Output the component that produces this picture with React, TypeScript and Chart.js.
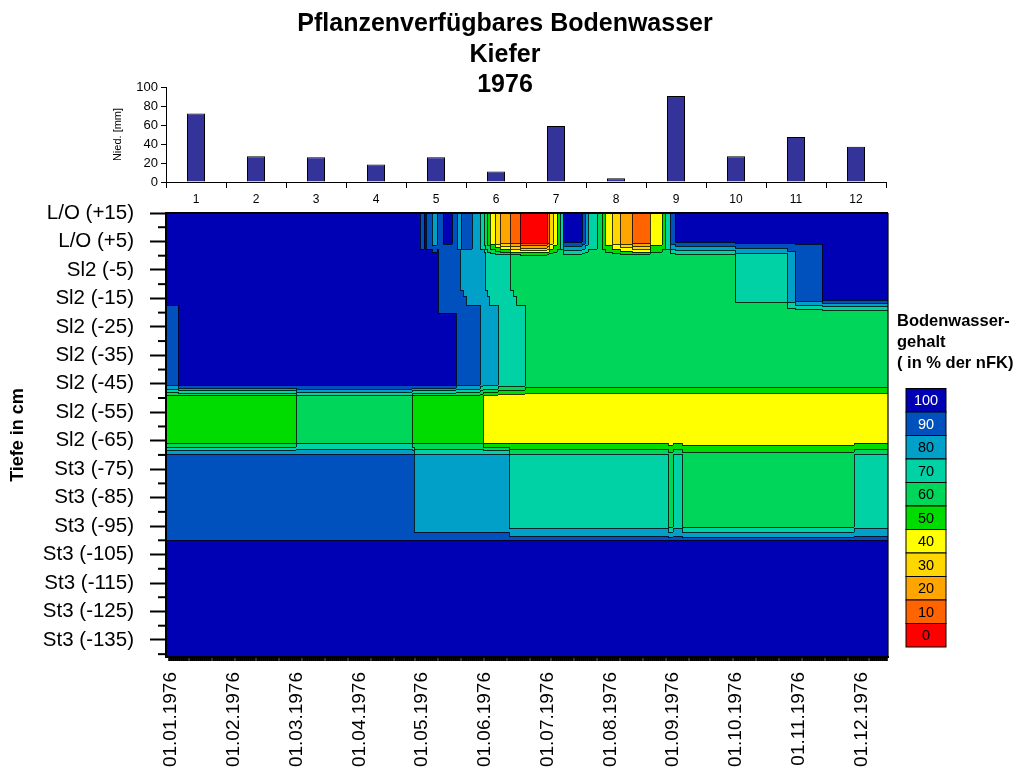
import { useEffect, useRef } from 'react';
import { Chart, registerables } from 'chart.js';

Chart.register(...registerables);

const FONT = '"Liberation Sans", Arial, Helvetica, sans-serif';

const TITLE_LINES = ['Pflanzenverfügbares Bodenwasser', 'Kiefer', '1976'];

// Monthly precipitation
const MONTHS = ['1', '2', '3', '4', '5', '6', '7', '8', '9', '10', '11', '12'];
const PRECIP_MM = [72, 27, 26, 18.5, 26, 11, 59, 4, 90.5, 27, 47.5, 37];

// Depth axis (cm) and date axis
const DEPTH_LABELS = [
  'L/O (+15)', 'L/O (+5)', 'Sl2 (-5)', 'Sl2 (-15)', 'Sl2 (-25)', 'Sl2 (-35)', 'Sl2 (-45)',
  'Sl2 (-55)', 'Sl2 (-65)', 'St3 (-75)', 'St3 (-85)', 'St3 (-95)', 'St3 (-105)',
  'St3 (-115)', 'St3 (-125)', 'St3 (-135)',
];
const DATE_LABELS = [
  '01.01.1976', '01.02.1976', '01.03.1976', '01.04.1976', '01.05.1976', '01.06.1976',
  '01.07.1976', '01.08.1976', '01.09.1976', '01.10.1976', '01.11.1976', '01.12.1976',
];
const DAYS_PER_LABEL = 30;
const DAY_COUNT = 344;

// Soil water classes (% nFK)
const LEVELS = [0, 10, 20, 30, 40, 50, 60, 70, 80, 90, 100];
const LEVEL_COLORS = [
  '#FF0000', '#FF6400', '#FFA500', '#FFD700', '#FFFF00', '#00DC00',
  '#00D75A', '#00D2A5', '#00A0C8', '#0050BE', '#0000B4',
];
const LEGEND_TITLE = ['Bodenwasser-', 'gehalt', '( in % der nFK)'];

// Soil water per depth row as runs: [first day, % nFK]
const SURFACE = [
  [-1.5, 101], [119.9, 95], [121.8, 101], [122.7, 95], [125.6, 85], [128, 95], [130.8, 101],
  [135.1, 95], [137.5, 85], [139.4, 95], [144.7, 85], [148.5, 75], [150.4, 65], [151.9, 55],
  [153.3, 45], [155.7, 35], [158.1, 25], [162.9, 15], [167.6, 5], [180.5, 15], [181.5, 35],
  [183.4, 45], [185.3, 55], [186.7, 75], [188.2, 101], [197.3, 95], [198.7, 85], [200.1, 75],
  [204.4, 65], [206.8, 55], [208.2, 45], [211.6, 35], [215.4, 25], [221.1, 15], [229.7, 45],
  [235.5, 55], [236.9, 75], [239.3, 95], [241.7, 101],
];
const UPPER = [
  [-1.5, 105], [128.5, 95], [139, 85], [150.9, 75], [162.9, 65], [270.3, 75], [295.2, 85],
  [299, 95], [311.9, 105],
];
const UPPER_13 = [
  [-1.5, 105], [128.5, 95], [140.5, 85], [152, 75], [164.5, 65], [270.3, 75], [295.2, 85],
  [299, 95], [311.9, 105],
];
const UPPER_MID = [
  [-1.5, 105], [128.5, 95], [142, 85], [153, 75], [166, 65], [270.3, 72], [295.2, 85],
  [299, 95], [311.9, 105],
];
const UPPER_LOW = [[-1.5, 95], [4.2, 105], [128.5, 95], [148.5, 85], [157.1, 75], [170, 65]];
const SUBSOIL = [[-1.5, 95], [4.2, 105], [137.1, 95], [148.5, 85], [157.1, 75], [170, 65]];
const SL2_CORE = [[-1.5, 55], [60.6, 65], [116, 55], [150, 45]];
const ST3 = [
  [-1.5, 95], [117, 85], [162.4, 75], [238.3, 65], [240.7, 75], [245, 65], [327.2, 75],
];
const ST3_BASE = [[-1.5, 95]];
const DEEP = [[-1.5, 105]];

const PROFILE_DEPTHS = [16, 4.8, 0, -11, -13, -15, -19.5, -20.5, -45, -49.5, -65, -70.5, -94.5, -99.6, -100.2, -142];
const PROFILE_ROWS = [
  SURFACE, SURFACE, UPPER, UPPER, UPPER_13, UPPER_MID, UPPER_LOW, SUBSOIL, SUBSOIL,
  SL2_CORE, SL2_CORE, ST3, ST3, ST3_BASE, DEEP, DEEP,
];

const isDepthLabel = (v: number) => v >= -135 && v <= 15 && Math.abs((15 - v) % 10) < 1e-6;

function runValue(runs: number[][], day: number): number {
  let v = runs[0][1];
  for (let i = 0; i < runs.length; i++) {
    if (runs[i][0] <= day) v = runs[i][1];
    else break;
  }
  return v;
}

function hexToRgb(h: string): number[] {
  const n = parseInt(h.slice(1), 16);
  return [(n >> 16) & 255, (n >> 8) & 255, n & 255];
}

// Filled contour field: depth-linear interpolation between profile rows, classified in 10 % steps
const fieldPlugin = {
  id: 'soilField',
  beforeDraw(chart: any) {
    const { ctx, chartArea: a, scales } = chart;
    const xs = scales.x;
    const ys = scales.y;
    const W = Math.round(a.right - a.left);
    const H = Math.round(a.bottom - a.top);
    const rgb = LEVEL_COLORS.map(hexToRgb);
    const rowVals = PROFILE_ROWS.map((runs) => {
      const arr = new Float32Array(W);
      for (let i = 0; i < W; i++) arr[i] = runValue(runs, xs.getValueForPixel(a.left + i + 0.5));
      return arr;
    });
    const cls = new Uint8Array(W * H);
    for (let j = 0; j < H; j++) {
      const depth = ys.getValueForPixel(a.top + j + 0.5);
      let k = 0;
      while (k < PROFILE_DEPTHS.length - 2 && depth < PROFILE_DEPTHS[k + 1]) k++;
      const d0 = PROFILE_DEPTHS[k];
      const d1 = PROFILE_DEPTHS[k + 1];
      const t = Math.max(0, Math.min(1, (d0 - depth) / (d0 - d1)));
      const r0 = rowVals[k];
      const r1 = rowVals[k + 1];
      for (let i = 0; i < W; i++) {
        const v = r0[i] * (1 - t) + r1[i] * t;
        cls[j * W + i] = Math.max(0, Math.min(10, Math.floor(v / 10)));
      }
    }
    const img = ctx.createImageData(W, H);
    const d = img.data;
    for (let j = 0; j < H; j++) {
      for (let i = 0; i < W; i++) {
        const idx = j * W + i;
        const c = cls[idx];
        const edge = (i > 0 && cls[idx - 1] !== c) || (j > 0 && cls[idx - W] !== c);
        const col = rgb[c];
        const f = edge ? 0.22 : 1;
        d[idx * 4] = col[0] * f;
        d[idx * 4 + 1] = col[1] * f;
        d[idx * 4 + 2] = col[2] * f;
        d[idx * 4 + 3] = 255;
      }
    }
    const off = document.createElement('canvas');
    off.width = W;
    off.height = H;
    (off.getContext('2d') as CanvasRenderingContext2D).putImageData(img, 0, 0);
    ctx.drawImage(off, a.left, a.top);
  },
};

// Frame, minor depth ticks and class legend
const framePlugin = {
  id: 'frameAndLegend',
  afterDraw(chart: any) {
    const { ctx, chartArea: a, scales } = chart;
    ctx.save();
    ctx.strokeStyle = '#000';
    ctx.lineWidth = 2;
    ctx.beginPath();
    ctx.moveTo(a.left - 1, a.top);
    ctx.lineTo(a.right, a.top);
    ctx.stroke();
    ctx.lineWidth = 1.2;
    ctx.beginPath();
    ctx.moveTo(a.right, a.top);
    ctx.lineTo(a.right, a.bottom);
    ctx.stroke();

    ctx.lineWidth = 2;
    for (const tk of scales.y.ticks) {
      if (isDepthLabel(tk.value)) continue;
      const y = scales.y.getPixelForValue(tk.value);
      ctx.beginPath();
      ctx.moveTo(a.left - 8, y);
      ctx.lineTo(a.left, y);
      ctx.stroke();
    }

    ctx.fillStyle = '#000';
    ctx.font = `bold 16.5px ${FONT}`;
    ctx.textAlign = 'left';
    ctx.textBaseline = 'alphabetic';
    LEGEND_TITLE.forEach((line, i) => ctx.fillText(line, 897, 326 + i * 21));

    const boxX = 906;
    const boxW = 40;
    const boxTop = 388.5;
    const boxH = 23.5;
    ctx.font = `14.5px ${FONT}`;
    ctx.textAlign = 'center';
    ctx.textBaseline = 'middle';
    ctx.lineWidth = 1;
    for (let i = 0; i < LEVELS.length; i++) {
      const lvl = LEVELS.length - 1 - i;
      const y = boxTop + i * boxH;
      ctx.fillStyle = LEVEL_COLORS[lvl];
      ctx.fillRect(boxX, y, boxW, boxH);
      ctx.strokeStyle = '#000';
      ctx.strokeRect(boxX, y, boxW, boxH);
      ctx.fillStyle = lvl >= 9 ? '#fff' : '#000';
      ctx.fillText(String(LEVELS[lvl]), boxX + 20, y + boxH / 2 + 1);
    }
    ctx.restore();
  },
};

export default function App() {
  const barRef = useRef<HTMLCanvasElement>(null);
  const fieldRef = useRef<HTMLCanvasElement>(null);

  useEffect(() => {
    const bar = new Chart(barRef.current as HTMLCanvasElement, {
      type: 'bar',
      data: {
        labels: MONTHS,
        datasets: [{
          data: PRECIP_MM,
          backgroundColor: '#333399',
          borderColor: '#000',
          borderWidth: 1,
          barPercentage: 0.3,
          categoryPercentage: 1,
        }],
      },
      options: {
        responsive: false,
        animation: false,
        devicePixelRatio: 1,
        layout: { padding: { top: 87, right: 135, bottom: 557, left: 0 } },
        plugins: { legend: { display: false }, tooltip: { enabled: false } },
        scales: {
          x: {
            afterFit: (s: any) => { s.height = 30; },
            border: { display: true, color: '#000', width: 1 },
            grid: { drawOnChartArea: false, tickLength: 6, tickColor: '#000', tickWidth: 1 },
            ticks: { color: '#000', font: { family: FONT, size: 12 }, padding: 4, maxRotation: 0 },
          },
          y: {
            min: 0,
            max: 100,
            afterFit: (s: any) => { s.width = 166; },
            border: { display: true, color: '#000', width: 1 },
            grid: { drawOnChartArea: false, tickLength: 5, tickColor: '#000', tickWidth: 1 },
            ticks: { stepSize: 20, color: '#000', font: { family: FONT, size: 13 }, padding: 3 },
            title: {
              display: true,
              text: 'Nied. [mm]',
              color: '#000',
              font: { family: FONT, size: 11 },
              padding: { top: 111, bottom: 0 },
            },
          },
        },
      } as any,
    });

    const field = new Chart(fieldRef.current as HTMLCanvasElement, {
      type: 'scatter',
      data: { datasets: [{ data: [] }] },
      options: {
        responsive: false,
        animation: false,
        devicePixelRatio: 1,
        layout: { padding: { top: 213, right: 133, bottom: 0, left: 0 } },
        plugins: { legend: { display: false }, tooltip: { enabled: false } },
        scales: {
          x: {
            type: 'linear',
            min: -1.5,
            max: 343.6,
            afterFit: (s: any) => { s.height = 112; },
            afterBuildTicks: (s: any) => {
              s.ticks = Array.from({ length: DAY_COUNT }, (_, i) => ({ value: i }));
            },
            border: { display: true, color: '#000', width: 2 },
            grid: { drawOnChartArea: false, tickLength: 4, tickColor: '#000', tickWidth: 2.6 },
            ticks: {
              autoSkip: false,
              minRotation: 90,
              maxRotation: 90,
              padding: 11,
              labelOffset: 2,
              color: '#000',
              font: { family: FONT, size: 19 },
              callback: (v: any) => {
                const n = Number(v);
                if (n % DAYS_PER_LABEL !== 0) return '';
                return DATE_LABELS[n / DAYS_PER_LABEL] ?? '';
              },
            },
          },
          y: {
            type: 'linear',
            min: -141,
            max: 15,
            afterFit: (s: any) => { s.width = 166; },
            afterBuildTicks: (s: any) => {
              const t = [];
              for (let v = 15; v >= -140; v -= 5) t.push({ value: v });
              s.ticks = t;
            },
            border: { display: true, color: '#000', width: 2 },
            grid: {
              drawOnChartArea: false,
              tickLength: 16,
              tickWidth: 2,
              tickColor: (c: any) => (c.tick && isDepthLabel(c.tick.value) ? '#000' : 'rgba(0,0,0,0)'),
            },
            ticks: {
              autoSkip: false,
              padding: 16,
              color: '#000',
              font: { family: FONT, size: 20.5 },
              callback: (v: any) => {
                const n = Number(v);
                return isDepthLabel(n) ? DEPTH_LABELS[Math.round((15 - n) / 10)] : '';
              },
            },
            title: {
              display: true,
              text: 'Tiefe in cm',
              color: '#000',
              font: { family: FONT, size: 18, weight: 'bold' },
              padding: { top: 7, bottom: 0 },
            },
          },
        },
      } as any,
      plugins: [fieldPlugin, framePlugin],
    });

    return () => {
      bar.destroy();
      field.destroy();
    };
  }, []);

  return (
    <div style={{ position: 'absolute', left: 0, top: 0, width: 1021, height: 769, background: '#fff', overflow: 'hidden' }}>
      <canvas ref={fieldRef} width={1021} height={769} style={{ position: 'absolute', left: 0, top: 0 }} />
      <canvas ref={barRef} width={1021} height={769} style={{ position: 'absolute', left: 0, top: 0 }} />
      <div
        style={{
          position: 'absolute',
          left: 0,
          top: 7,
          width: 1010,
          textAlign: 'center',
          fontFamily: FONT,
          fontWeight: 'bold',
          fontSize: 25,
          lineHeight: '30.5px',
          color: '#000',
        }}
      >
        {TITLE_LINES.map((t) => (
          <div key={t}>{t}</div>
        ))}
      </div>
    </div>
  );
}
